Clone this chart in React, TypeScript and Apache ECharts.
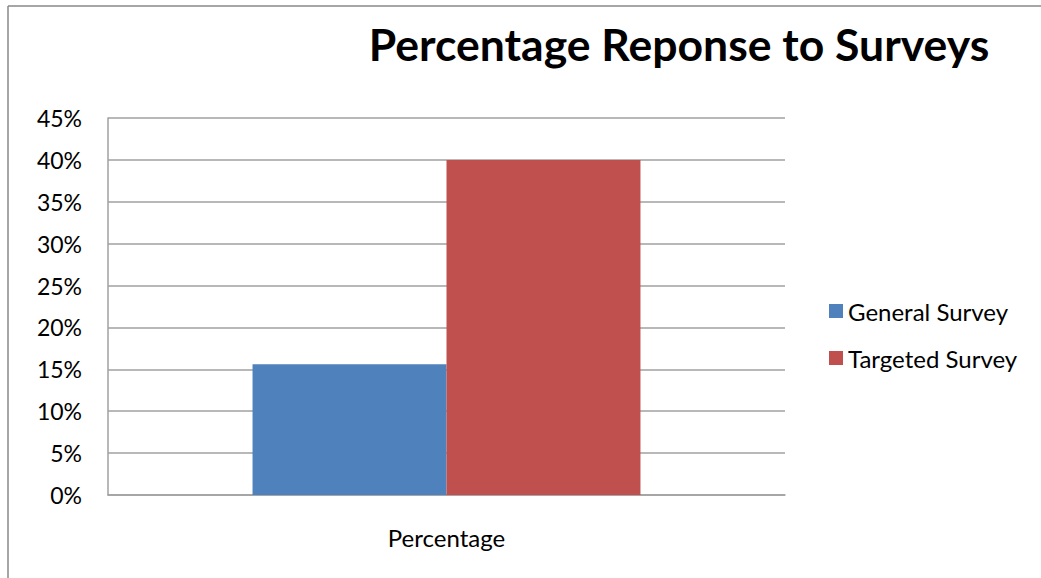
import React, { useEffect, useRef } from "react";
import * as echarts from "echarts";

const categories = ["Percentage"];
const seriesNames = ["General Survey", "Targeted Survey"];
const generalValues = [15.6];
const targetedValues = [40];
const colors = ["#4f81bd", "#c0504d"];

export default function App() {
  const ref = useRef<HTMLDivElement>(null);
  useEffect(() => {
    if (!ref.current) return;
    const chart = echarts.init(ref.current, null, { renderer: "svg" });
    const font = "Lato, 'Open Sans', sans-serif";
    chart.setOption({
      animation: false,
      backgroundColor: "#ffffff",
      title: {
        text: "Percentage Reponse to Surveys",
        left: 679,
        top: 21,
        padding: 0,
        textAlign: "center",
        textStyle: { fontFamily: font, fontWeight: "bold", fontSize: 44.5, color: "#000" },
      },
      legend: {
        orient: "vertical",
        left: 829,
        top: 299,
        padding: 0,
        itemWidth: 14,
        itemHeight: 14,
        itemGap: 23,
        icon: "rect",
        textStyle: { fontFamily: font, fontSize: 24, color: "#000" },
        data: seriesNames,
      },
      grid: { left: 108, right: 256, top: 118, bottom: 83 },
      xAxis: {
        type: "category",
        data: categories,
        axisLine: { show: true, lineStyle: { color: "#a0a0a0", width: 1.5 } },
        axisTick: { show: false },
        axisLabel: { margin: 30, fontFamily: font, fontSize: 24, color: "#000" },
      },
      yAxis: {
        type: "value",
        min: 0,
        max: 45,
        interval: 5,
        axisLine: { show: true, lineStyle: { color: "#a0a0a0", width: 1.5 } },
        axisTick: { show: false },
        axisLabel: {
          margin: 26,
          fontFamily: font,
          fontSize: 23,
          color: "#000",
          formatter: (v: number) => `${v}%`,
        },
        splitLine: { show: true, lineStyle: { color: "#a0a0a0", width: 1.5 } },
      },
      series: [
        {
          name: seriesNames[0],
          type: "bar",
          data: generalValues,
          itemStyle: { color: colors[0] },
          barGap: "0%",
          barCategoryGap: "42.7%",
        },
        {
          name: seriesNames[1],
          type: "bar",
          data: targetedValues,
          itemStyle: { color: colors[1] },
          barGap: "0%",
          barCategoryGap: "42.7%",
        },
      ],
      graphic: [
        { type: "line", shape: { x1: 8, y1: 6, x2: 1041, y2: 6 }, style: { stroke: "#888", lineWidth: 1.5 } },
        { type: "line", shape: { x1: 8, y1: 6, x2: 8, y2: 578 }, style: { stroke: "#888", lineWidth: 1.5 } },
      ],
    });
    return () => chart.dispose();
  }, []);
  return (
    <div
      ref={ref}
      style={{ position: "fixed", left: 0, top: 0, width: 1041, height: 578 }}
    />
  );
}
